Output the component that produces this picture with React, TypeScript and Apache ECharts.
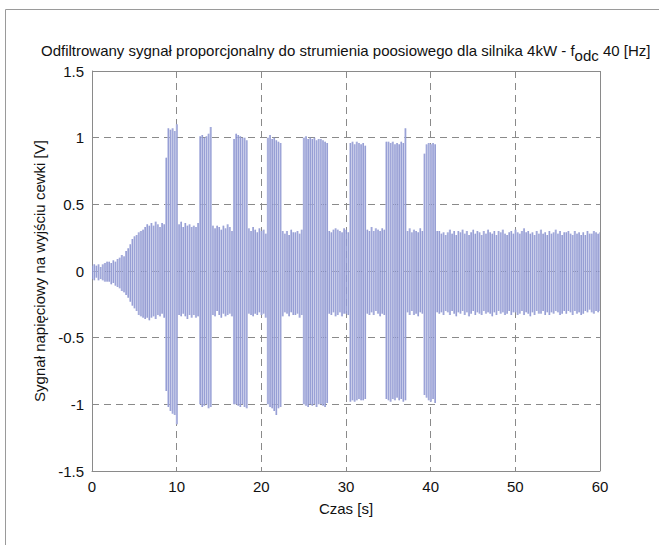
import React, { useEffect, useRef } from "react";
import * as echarts from "echarts";

// Sampling step of the envelope readings [s]
const SAMPLE_STEP = 0.25;

// Upper envelope of the signal [V], one row per second (4 readings per second)
const upperEnvelope: number[] = [
  0.04, 0.05, 0.04, 0.05,
  0.03, 0.05, 0.06, 0.07,
  0.07, 0.06, 0.08, 0.07,
  0.09, 0.1, 0.12, 0.11,
  0.15, 0.17, 0.2, 0.24,
  0.26, 0.27, 0.29, 0.3,
  0.31, 0.33, 0.35, 0.34,
  0.36, 0.34, 0.37, 0.35,
  0.33, 0.36, 0.35, 0.85,
  1.07, 1.06, 1.07, 1.05,
  1.1, 0.35, 0.37, 0.33,
  0.36, 0.34, 0.35, 0.33,
  0.34, 0.33, 0.36, 1.01,
  1.02, 1.0, 1.01, 1.03,
  1.08, 0.34, 0.32, 0.34,
  0.33, 0.31, 0.34, 0.32,
  0.35, 0.33, 0.3, 0.99,
  1.03, 1.02, 1.01, 1.0,
  1.0, 0.98, 0.32, 0.3,
  0.33, 0.31, 0.29, 0.32,
  0.3, 0.31, 0.28, 1.0,
  1.02, 0.99, 1.0, 0.98,
  0.97, 0.96, 0.3, 0.28,
  0.3, 0.27, 0.31, 0.29,
  0.29, 0.3, 0.28, 0.31,
  1.0, 1.01, 0.99, 1.0,
  0.99, 1.0, 0.98, 0.99,
  0.99, 0.98, 0.97, 0.96,
  0.3, 0.29, 0.31, 0.32,
  0.31, 0.3, 0.29, 0.32,
  0.31, 0.29, 0.96, 0.97,
  0.95, 0.97, 0.96, 0.95,
  0.96, 0.94, 0.31, 0.3,
  0.33, 0.3, 0.32, 0.31,
  0.3, 0.32, 0.31, 0.97,
  0.97, 0.96, 0.97, 0.95,
  0.96, 0.95, 0.97, 0.96,
  1.07, 0.3, 0.32, 0.29,
  0.31, 0.3, 0.29, 0.32,
  0.3, 0.88, 0.95, 0.96,
  0.95, 0.96, 0.95, 0.3,
  0.3, 0.28, 0.29, 0.27,
  0.29, 0.31, 0.28, 0.3,
  0.27, 0.3, 0.29, 0.31,
  0.28, 0.3, 0.27, 0.29,
  0.31, 0.28, 0.3, 0.29,
  0.27, 0.3, 0.28, 0.31,
  0.29, 0.28, 0.3, 0.27,
  0.3, 0.29, 0.31, 0.28,
  0.27, 0.29, 0.3, 0.28,
  0.31, 0.29, 0.28, 0.3,
  0.32, 0.29, 0.3, 0.28,
  0.29, 0.27, 0.3, 0.28,
  0.31, 0.28, 0.29, 0.27,
  0.3, 0.28, 0.29, 0.31,
  0.28, 0.3, 0.27, 0.29,
  0.29, 0.3, 0.28, 0.27,
  0.3, 0.28, 0.29, 0.27,
  0.29, 0.27, 0.3, 0.28,
  0.28, 0.3, 0.29, 0.28,
  0.29,
];

// Lower envelope of the signal [V]
const lowerEnvelope: number[] = [
  -0.06, -0.07, -0.05, -0.07,
  -0.06, -0.07, -0.08, -0.08,
  -0.08, -0.1, -0.09, -0.11,
  -0.12, -0.13, -0.15, -0.16,
  -0.18, -0.2, -0.23, -0.26,
  -0.28, -0.3, -0.33, -0.34,
  -0.35, -0.36, -0.35, -0.37,
  -0.35, -0.34, -0.36, -0.33,
  -0.34, -0.32, -0.35, -0.9,
  -1.02, -1.05, -1.07, -1.08,
  -1.15, -0.33, -0.34, -0.32,
  -0.34, -0.36, -0.33, -0.35,
  -0.33, -0.35, -0.34, -1.0,
  -1.02, -1.01, -1.0, -1.03,
  -1.02, -0.33, -0.34, -0.3,
  -0.33, -0.35, -0.32, -0.34,
  -0.33, -0.32, -0.34, -1.0,
  -1.0, -1.01, -1.02, -1.0,
  -1.02, -1.03, -0.32, -0.33,
  -0.34, -0.32, -0.33, -0.31,
  -0.33, -0.32, -0.35, -1.0,
  -1.02, -1.03, -1.05, -1.08,
  -1.03, -1.02, -0.34, -0.31,
  -0.32, -0.34, -0.31, -0.33,
  -0.33, -0.32, -0.35, -0.33,
  -1.0, -1.01, -1.02, -1.0,
  -1.01, -1.0, -1.02, -1.0,
  -1.0, -1.01, -1.02, -0.99,
  -0.32, -0.33, -0.31, -0.34,
  -0.33, -0.31, -0.34, -0.32,
  -0.32, -0.33, -0.98, -0.97,
  -0.98, -0.97, -0.96, -0.97,
  -0.97, -0.96, -0.32, -0.33,
  -0.31, -0.33, -0.3, -0.32,
  -0.34, -0.32, -0.33, -0.96,
  -0.97, -0.98, -0.96, -0.97,
  -0.95, -0.97, -0.96, -0.98,
  -0.97, -0.31, -0.33, -0.3,
  -0.33, -0.32, -0.34, -0.31,
  -0.32, -0.93, -0.95, -0.97,
  -0.98, -0.96, -0.99, -0.31,
  -0.32, -0.31, -0.33, -0.3,
  -0.31, -0.33, -0.3, -0.32,
  -0.34, -0.31, -0.32, -0.3,
  -0.33, -0.31, -0.34, -0.32,
  -0.3, -0.33, -0.31, -0.32,
  -0.33, -0.3, -0.32, -0.31,
  -0.32, -0.34, -0.31, -0.33,
  -0.3, -0.32, -0.31, -0.33,
  -0.32, -0.3, -0.33, -0.31,
  -0.31, -0.33, -0.32, -0.3,
  -0.33, -0.31, -0.32, -0.34,
  -0.31, -0.33, -0.3, -0.32,
  -0.32, -0.3, -0.33, -0.31,
  -0.33, -0.31, -0.32, -0.3,
  -0.31, -0.33, -0.32, -0.3,
  -0.32, -0.3, -0.31, -0.33,
  -0.3, -0.32, -0.31, -0.33,
  -0.32, -0.3, -0.31, -0.29,
  -0.31, -0.32, -0.3, -0.31,
  -0.3,
];

const xTicks = [0, 10, 20, 30, 40, 50, 60];
const yTicks = [-1.5, -1, -0.5, 0, 0.5, 1, 1.5];

const TITLE_MAIN = "Odfiltrowany sygnał proporcjonalny do strumienia poosiowego dla silnika 4kW - f";
const TITLE_SUB = "odc";
const TITLE_END = " 40 [Hz]";
const X_NAME = "Czas [s]";
const Y_NAME = "Sygnał napięciowy na wyjściu cewki [V]";

const FONT = "'Liberation Sans', Arial, sans-serif";

export default function App() {
  const ref = useRef<HTMLDivElement>(null);

  useEffect(() => {
    if (!ref.current) return;
    const chart = echarts.init(ref.current, null, { renderer: "svg" });

    const data = upperEnvelope.map((hi, i) => [i * SAMPLE_STEP, lowerEnvelope[i], hi]);

    const gridLine = { show: true, lineStyle: { color: "#8a8a8a", type: [7, 5] as any, width: 1 } };

    chart.setOption({
      animation: false,
      backgroundColor: "#ffffff",
      textStyle: { fontFamily: FONT },
      title: {
        text: `${TITLE_MAIN}{sub|${TITLE_SUB}}${TITLE_END}`,
        left: 36,
        top: 32,
        textStyle: {
          fontFamily: FONT,
          fontSize: 15,
          fontWeight: "normal",
          color: "#111",
          rich: {
            sub: { fontFamily: FONT, fontSize: 15, color: "#111", padding: [11, 0, 0, 0] },
          },
        },
      },
      graphic: [
        {
          type: "rect",
          shape: { x: 5.5, y: 9.5, width: 700, height: 600 },
          style: { fill: "none", stroke: "#9a9a9a", lineWidth: 1 },
          silent: true,
        },
      ],
      grid: { left: 92, right: 59, top: 71, bottom: 74, containLabel: false },
      xAxis: {
        type: "value",
        min: 0,
        max: 60,
        interval: 10,
        name: X_NAME,
        nameLocation: "middle",
        nameGap: 30,
        nameTextStyle: { fontFamily: FONT, fontSize: 15, color: "#111" },
        axisLine: { show: true, onZero: false, lineStyle: { color: "#8a8a8a" } },
        axisTick: { show: false },
        axisLabel: { fontFamily: FONT, fontSize: 15, color: "#111", margin: 8 },
        splitLine: gridLine,
      },
      yAxis: {
        type: "value",
        min: -1.5,
        max: 1.5,
        interval: 0.5,
        name: Y_NAME,
        nameLocation: "middle",
        nameGap: 45,
        nameTextStyle: { fontFamily: FONT, fontSize: 15, color: "#111" },
        axisLine: { show: true, onZero: false, lineStyle: { color: "#8a8a8a" } },
        axisTick: { show: false },
        axisLabel: {
          fontFamily: FONT,
          fontSize: 15,
          color: "#111",
          margin: 8,
          formatter: (v: number) => (yTicks.includes(v) ? String(v) : ""),
        },
        splitLine: gridLine,
      },
      series: [
        {
          type: "custom",
          data,
          encode: { x: 0, y: [1, 2] },
          clip: true,
          renderItem: (params: any, api: any) => {
            const t = api.value(0);
            const lo = api.coord([t, api.value(1)]);
            const hi = api.coord([t, api.value(2)]);
            return {
              type: "group",
              children: [
                {
                  type: "line",
                  shape: { x1: lo[0], y1: lo[1], x2: hi[0], y2: hi[1] },
                  style: { stroke: "#b2b8e2", lineWidth: 1.7 },
                },
                {
                  type: "line",
                  shape: { x1: lo[0] + 0.6, y1: lo[1], x2: hi[0] + 0.6, y2: hi[1] },
                  style: { stroke: "#5462b4", lineWidth: 0.5, opacity: 0.8 },
                },
              ],
            };
          },
          z: 2,
        },
        {
          // top and right box edges (MATLAB box)
          type: "line",
          data: [],
          markLine: {
            silent: true,
            symbol: "none",
            label: { show: false },
            lineStyle: { color: "#8a8a8a", type: "solid", width: 1 },
            data: [{ xAxis: xTicks[xTicks.length - 1] }, { yAxis: yTicks[yTicks.length - 1] }],
          },
        },
      ],
    });

    return () => chart.dispose();
  }, []);

  return (
    <div
      ref={ref}
      style={{ position: "fixed", left: 0, top: 0, width: 659, height: 545 }}
    />
  );
}
